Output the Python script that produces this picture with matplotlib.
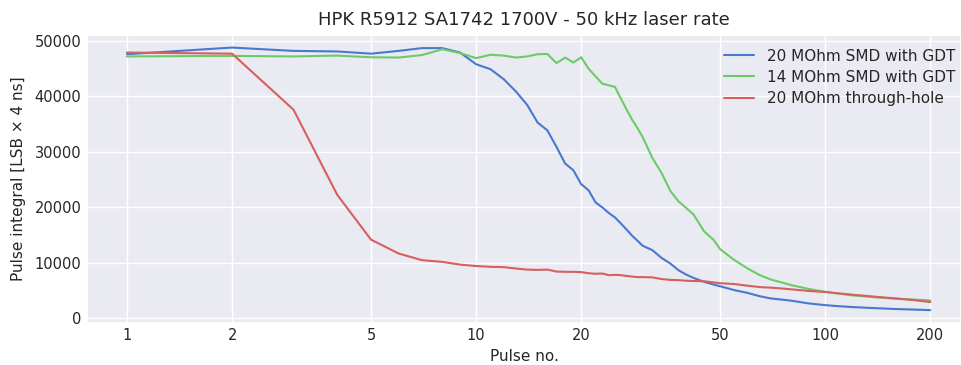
import matplotlib
matplotlib.use("Agg")
import matplotlib.pyplot as plt
import seaborn as sns

# pulse numbers and pulse integrals [LSB x 4 ns]
pulse = [1, 2, 3, 4, 5, 6, 7, 8, 9, 10,
         11, 12, 13, 14, 15, 16, 17, 18, 19, 20,
         21, 22, 23, 24, 25, 26, 27, 28, 29, 30,
         32, 34, 36, 38, 40, 42, 45, 48, 50, 55,
         60, 65, 70, 75, 80, 90, 100, 110, 120, 140,
         160, 180, 200]

smd20 = [47600, 48800, 48200, 48100, 47700, 48200, 48700, 48700, 47900, 45800,
         44900, 43100, 40900, 38500, 35300, 33900, 30900, 27900, 26700, 24200,
         23100, 20900, 20000, 19000, 18200, 17100, 16000, 14900, 14000, 13100,
         12300, 10900, 9900, 8700, 7900, 7300, 6600, 6100, 5800, 5100,
         4600, 4000, 3600, 3400, 3200, 2700, 2400, 2200, 2050, 1850,
         1700, 1600, 1500]

smd14 = [47200, 47300, 47200, 47350, 47050, 47000, 47450, 48500, 47800, 46900,
         47500, 47350, 47000, 47200, 47600, 47650, 46000, 47000, 46100, 47050,
         45000, 43600, 42300, 42000, 41700, 39600, 37600, 35800, 34300, 32700,
         28900, 26200, 23000, 21100, 19900, 18700, 15700, 14100, 12500, 10500,
         9000, 7800, 7000, 6500, 6000, 5300, 4800, 4450, 4150, 3800,
         3550, 3400, 3250]

th20 = [47900, 47700, 37600, 22300, 14200, 11700, 10500, 10200, 9700, 9450,
        9300, 9250, 9000, 8800, 8750, 8800, 8450, 8400, 8400, 8350,
        8150, 8050, 8100, 7800, 7850, 7800, 7650, 7550, 7450, 7450,
        7400, 7100, 6950, 6900, 6800, 6750, 6700, 6500, 6350, 6200,
        5900, 5650, 5550, 5400, 5250, 4950, 4770, 4500, 4280, 3900,
        3600, 3300, 2950]

labels = ["20 MOhm SMD with GDT", "14 MOhm SMD with GDT", "20 MOhm through-hole"]
colors = ["#4878d0", "#6acc64", "#d65f5f"]  # seaborn "muted" 0, 2, 3
xticks = [1, 2, 5, 10, 20, 50, 100, 200]

sns.set_theme(style="darkgrid")

fig = plt.figure(figsize=(9.61, 3.65), dpi=100)
ax = fig.add_axes([0.0905, 0.116, 0.9095, 0.788])

for y, lab, c in zip([smd20, smd14, th20], labels, colors):
    ax.plot(pulse, y, color=c, lw=1.5, label=lab)

ax.set_xscale("log")
ax.set_xticks(xticks)
ax.set_xticklabels([str(t) for t in xticks])
ax.minorticks_off()
ax.set_xlim(0.768, 245)
ax.set_ylim(-755, 51055)
ax.tick_params(labelsize=10.5, length=0, pad=4)

ax.set_xlabel("Pulse no.", fontsize=11, labelpad=4)
ax.set_ylabel("Pulse integral [LSB \u00d7 4 ns]", fontsize=11, labelpad=6)
ax.set_title("HPK R5912 SA1742 1700V - 50 kHz laser rate", fontsize=13, pad=7)
ax.legend(loc="upper right", bbox_to_anchor=(1.0, 0.974), borderaxespad=0,
          labelspacing=0.4, frameon=False, fontsize=11)

fig.savefig("out.png", dpi=100)
